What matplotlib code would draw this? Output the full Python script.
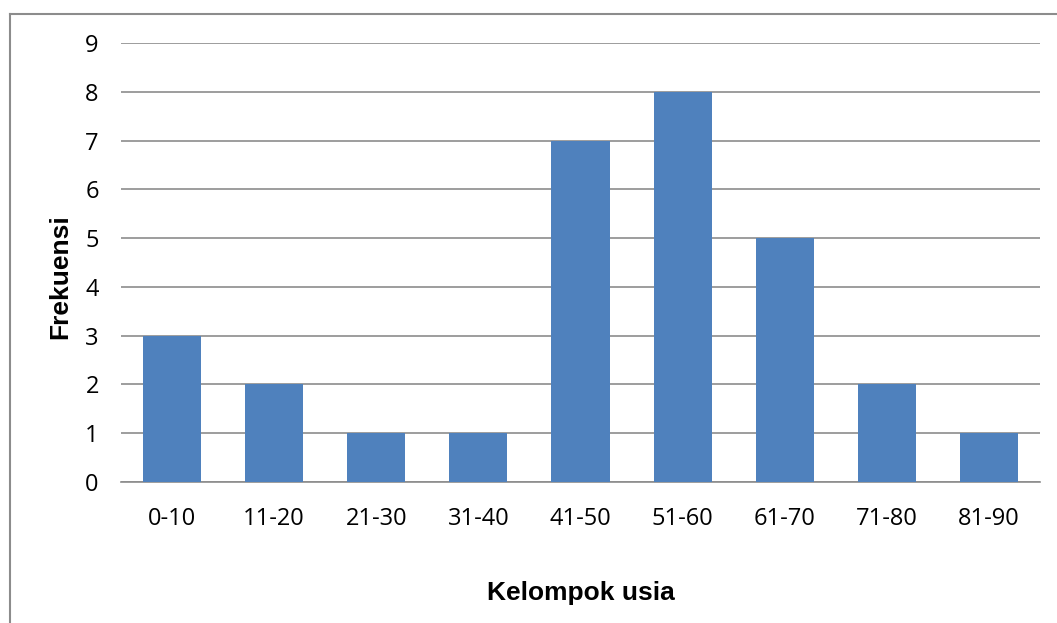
import matplotlib.pyplot as plt
from matplotlib.lines import Line2D

# age groups and how many fall in each
kelompok = ['0-10', '11-20', '21-30', '31-40', '41-50', '51-60', '61-70', '71-80', '81-90']
frekuensi = [3, 2, 1, 1, 7, 8, 5, 2, 1]
yticks = list(range(0, 10))

fig = plt.figure(figsize=(10.57, 6.23), dpi=100)
ax = fig.add_axes([0.1145, 0.2263, 0.8694, 0.7047])

ax.bar(range(len(kelompok)), frekuensi, width=0.57, color='#4F81BD', zorder=3)
ax.set_xlim(-0.5, len(kelompok) - 0.5)
ax.set_ylim(0, 9)
ax.set_yticks(yticks)
ax.set_xticks(range(len(kelompok)))
ax.set_xticklabels(kelompok)

ax.yaxis.grid(True, color='#8C8C8C', linewidth=1.2, zorder=0)
for s in ['top', 'right', 'left']:
    ax.spines[s].set_visible(False)
ax.spines['bottom'].set_color('#8C8C8C')
ax.spines['bottom'].set_linewidth(1.2)
ax.tick_params(length=0, labelsize=17)
for lab in ax.get_xticklabels() + ax.get_yticklabels():
    lab.set_family('Open Sans')
ax.tick_params(axis='y', pad=16)
ax.tick_params(axis='x', pad=18)

ax.set_xlabel('Kelompok usia', fontsize=19, fontweight='bold',
              family='Liberation Sans', labelpad=36)
ax.set_ylabel('Frekuensi', fontsize=19, fontweight='bold',
              family='Liberation Sans')
ax.yaxis.set_label_coords(-0.053, 0.467)

# chart border (runs off the right and bottom edges)
fig.add_artist(Line2D([10 / 1057, 10 / 1057], [0, 1 - 14 / 623],
                      transform=fig.transFigure, color='#8C8C8C', lw=1.5))
fig.add_artist(Line2D([10 / 1057, 1], [1 - 14 / 623, 1 - 14 / 623],
                      transform=fig.transFigure, color='#8C8C8C', lw=1.5))

fig.savefig('out.png', dpi=100)
